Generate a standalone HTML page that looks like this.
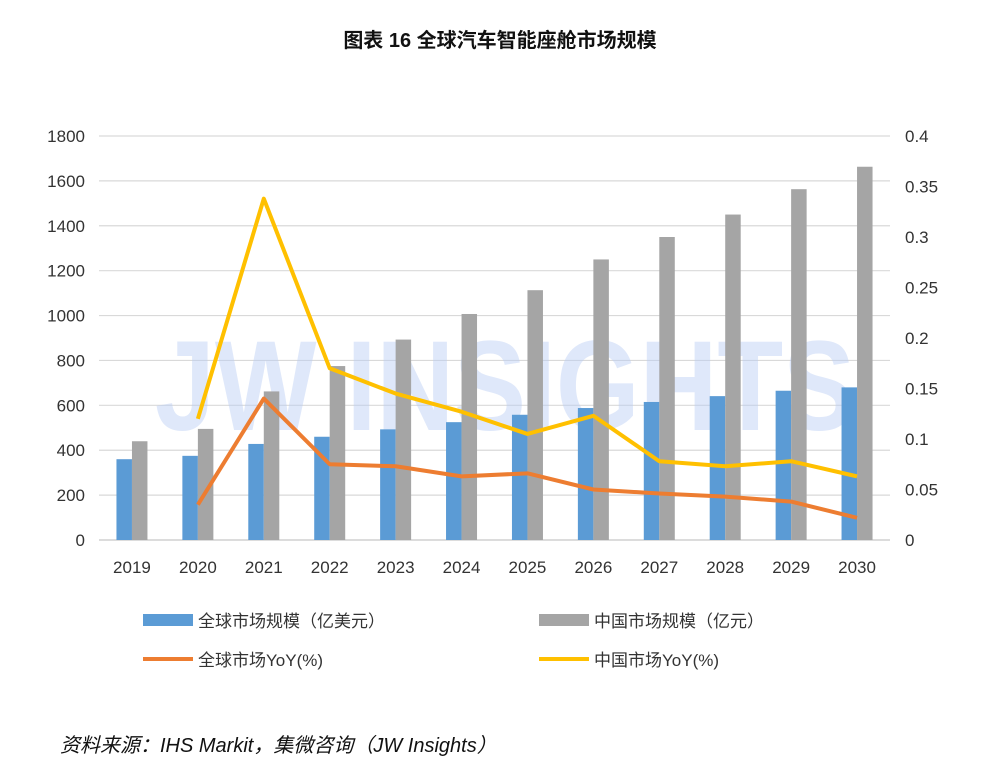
<!DOCTYPE html>
<html><head><meta charset="utf-8"><style>
body{margin:0;background:#fff;width:1000px;height:774px;overflow:hidden;font-family:"Liberation Sans","Noto Sans CJK SC",sans-serif;}
</style></head><body>
<svg id="chart" width="1000" height="774" xmlns="http://www.w3.org/2000/svg" font-family="Liberation Sans, Noto Sans CJK SC, sans-serif">
<text x="500" y="47" text-anchor="middle" font-size="20" font-weight="bold" fill="#111">图表 16  全球汽车智能座舱市场规模</text>
<g id="grid"></g>
<text x="505" y="430" text-anchor="middle" font-size="128" font-weight="bold" fill="#b8cdf5" fill-opacity="0.45" textLength="700" lengthAdjust="spacingAndGlyphs">JW INSIGHTS</text>
<g id="bars"></g><g id="lines"></g><g id="axes"></g>
<g font-size="17" fill="#333">
<rect x="143" y="614" width="50" height="12" fill="#5b9bd5"/>
<text x="198" y="627" fill="#333">全球市场规模（亿美元）</text>
<rect x="539" y="614" width="50" height="12" fill="#a5a5a5"/>
<text x="594" y="627" fill="#333">中国市场规模（亿元）</text>
<line x1="143" y1="659" x2="193" y2="659" stroke="#ed7d31" stroke-width="4"/>
<text x="198" y="666" fill="#333">全球市场YoY(%)</text>
<line x1="539" y1="659" x2="589" y2="659" stroke="#ffc000" stroke-width="4"/>
<text x="594" y="666" fill="#333">中国市场YoY(%)</text>
</g>
<text x="60" y="752" font-size="20" font-style="italic" fill="#111">资料来源：IHS Markit，集微咨询（JW Insights）</text>
</svg>
<script>
const years=["2019","2020","2021","2022","2023","2024","2025","2026","2027","2028","2029","2030"];
const globalSize=[360,375,428,460,493,525,558,588,615,641,665,680];
const chinaSize=[440,495,662,775,893,1007,1113,1250,1350,1450,1563,1663];
const globalYoY=[null,0.035,0.14,0.075,0.073,0.063,0.066,0.05,0.046,0.043,0.038,0.022];
const chinaYoY=[null,0.12,0.338,0.17,0.145,0.127,0.105,0.123,0.078,0.073,0.078,0.063];
const leftTicks=[0,200,400,600,800,1000,1200,1400,1600,1800];
const rightTicks=[0,0.05,0.1,0.15,0.2,0.25,0.3,0.35,0.4];
const NS="http://www.w3.org/2000/svg";
const y0=540,yTop=136,x0=99,x1=890;
const yL=v=>y0-(v/1800)*(y0-yTop);
const yR=v=>y0-(v/0.4)*(y0-yTop);
const step=(x1-x0)/years.length;
const xC=i=>x0+step*(i+0.5);
function mk(tag,attrs,parent){const e=document.createElementNS(NS,tag);for(const k in attrs)e.setAttribute(k,attrs[k]);parent.appendChild(e);return e;}
const grid=document.getElementById('grid'),bars=document.getElementById('bars'),lines=document.getElementById('lines'),axes=document.getElementById('axes');
leftTicks.forEach(t=>{
 const l=mk('line',{x1:x0,x2:x1,y1:yL(t),y2:yL(t),stroke:t===0?'#d0d0d0':'#d9d9d9','stroke-width':t===0?1.5:1.2},grid);
 
 
 const tx=mk('text',{x:85,y:yL(t)+6,'text-anchor':'end','font-size':17,fill:'#333'},axes);tx.textContent=t;
 
 
});
rightTicks.forEach(t=>{
 const tx=mk('text',{x:905,y:yR(t)+6,'font-size':17,fill:'#333'},axes);tx.textContent=String(t);
 
 
});
const bw=15.5;
years.forEach((yr,i)=>{
 const c=xC(i);
 const b1=mk('rect',{x:c-bw,y:yL(globalSize[i]),width:bw,height:y0-yL(globalSize[i]),fill:'#5b9bd5'},bars);
 
 
 const b2=mk('rect',{x:c,y:yL(chinaSize[i]),width:bw,height:y0-yL(chinaSize[i]),fill:'#a5a5a5'},bars);
 
 
 const tx=mk('text',{x:c,y:573,'text-anchor':'middle','font-size':17,fill:'#333'},axes);tx.textContent=yr;
 
 
});
function line(data,color,name){
 const pts=[];data.forEach((v,i)=>{if(v!==null)pts.push(xC(i)+','+yR(v));});
 const p=mk('polyline',{points:pts.join(' '),fill:'none',stroke:color,'stroke-width':4,'stroke-linejoin':'round'},lines);
 
 
}
line(chinaYoY,'#ffc000','line-china-yoy');
line(globalYoY,'#ed7d31','line-global-yoy');
</script>
</body></html>
